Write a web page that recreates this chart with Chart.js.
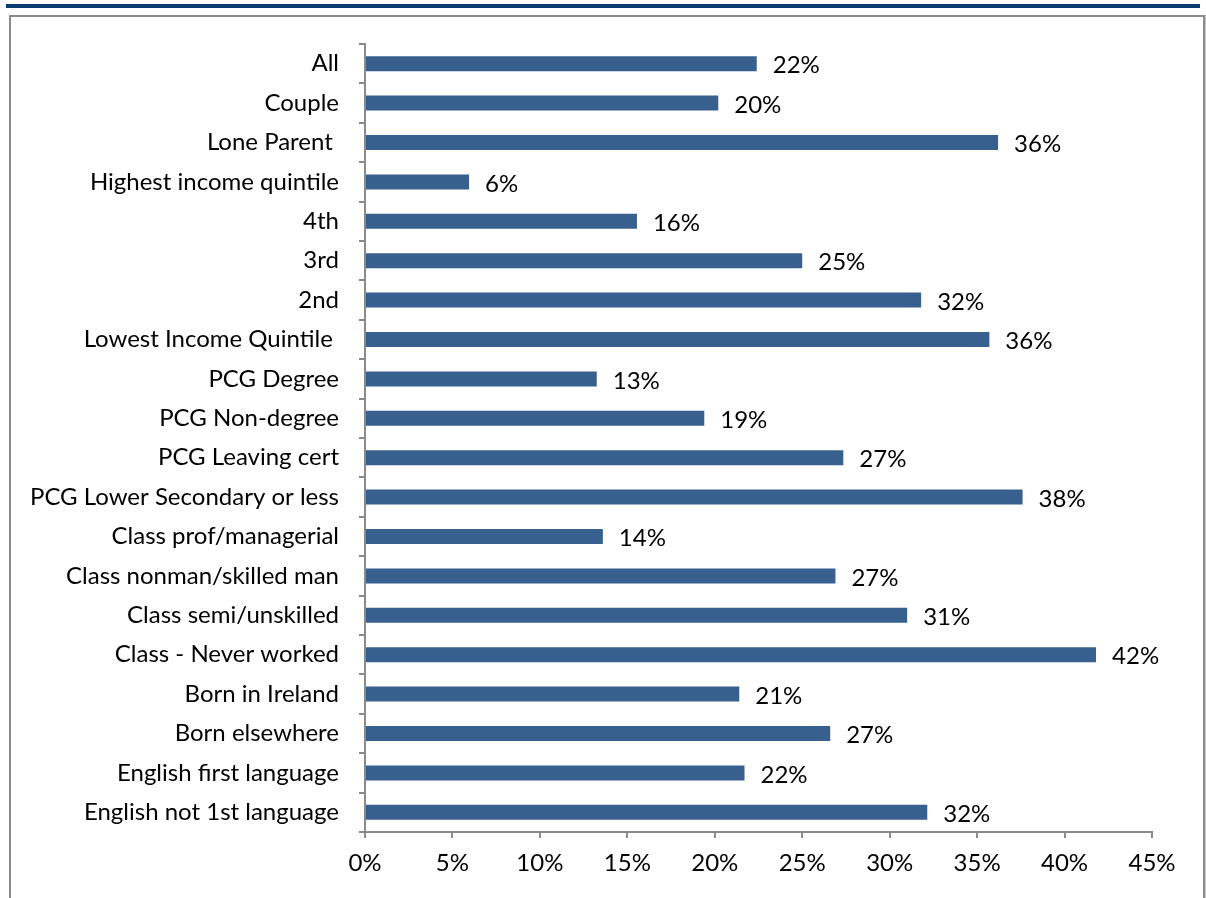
<!DOCTYPE html>
<html>
<head>
<meta charset="utf-8">
<script src="https://cdn.jsdelivr.net/npm/chart.js@4"></script>
<style>
  body { margin: 0; background: #fff; }
  .topline { position: absolute; left: 6px; top: 4px; width: 1194px; height: 4px; background: #0b3a6f; }
  .frame { position: absolute; left: 9px; top: 15px; width: 1192px; height: 900px;
           border: 2px solid #8a8a8a; border-bottom: none; box-shadow: 2px 0 0 #c8c8c8; }
  #wrap { position: absolute; left: 0; top: 0; }
</style>
</head>
<body>
<div class="topline"></div>
<div class="frame"></div>
<div id="wrap"><canvas id="barChart" width="1206" height="898"></canvas></div>
<script>
const categories = [
  "All", "Couple", "Lone Parent ", "Highest income quintile", "4th", "3rd", "2nd",
  "Lowest Income Quintile ", "PCG Degree", "PCG Non-degree", "PCG Leaving cert",
  "PCG Lower Secondary or less", "Class prof/managerial", "Class nonman/skilled man",
  "Class semi/unskilled", "Class - Never worked", "Born in Ireland", "Born elsewhere",
  "English first language", "English not 1st language"
];
const percentages = [
  22.4, 20.2, 36.2, 5.95, 15.55, 25.0, 31.8,
  35.7, 13.25, 19.4, 27.35,
  37.6, 13.6, 26.9,
  31.0, 41.8, 21.4, 26.6,
  21.7, 32.15
];
const xTicks = [0, 5, 10, 15, 20, 25, 30, 35, 40, 45];

const FONT = "Lato, 'Open Sans', sans-serif";
const FONT_SIZE = 24;

// percentage label to the right of each bar
const valueLabels = {
  id: "valueLabels",
  afterDatasetsDraw(chart) {
    const ctx = chart.ctx;
    const meta = chart.getDatasetMeta(0);
    ctx.save();
    ctx.font = FONT_SIZE + "px " + FONT;
    ctx.fillStyle = "#000";
    ctx.textAlign = "left";
    ctx.textBaseline = "middle";
    meta.data.forEach((bar, i) => {
      ctx.fillText(Math.round(percentages[i]) + "%", bar.x + 16, bar.y + 2);
    });
    ctx.restore();
  }
};

new Chart(document.getElementById("barChart"), {
  type: "bar",
  data: {
    labels: categories,
    datasets: [{
      data: percentages,
      backgroundColor: "#37608f",
      barPercentage: 0.38,
      categoryPercentage: 1
    }]
  },
  options: {
    indexAxis: "y",
    responsive: false,
    animation: false,
    layout: { padding: { top: 44, right: 54, left: 0, bottom: 0 } },
    plugins: { legend: { display: false }, tooltip: { enabled: false } },
    scales: {
      x: {
        min: 0,
        max: 45,
        afterBuildTicks(scale) { scale.ticks = xTicks.map(v => ({ value: v })); },
        afterFit(scale) { scale.height = 66; },
        border: { color: "#8a8a8a", width: 2 },
        grid: { drawOnChartArea: false, tickLength: 6, color: "#8a8a8a", lineWidth: 2 },
        ticks: {
          color: "#000",
          padding: 11,
          font: { family: FONT, size: FONT_SIZE },
          callback: v => v + "%"
        }
      },
      y: {
        afterFit(scale) { scale.width = 365; },
        border: { color: "#8a8a8a", width: 2 },
        grid: { drawOnChartArea: false, offset: true, tickLength: 6, color: "#8a8a8a", lineWidth: 2 },
        ticks: {
          color: "#000",
          padding: 20,
          font: { family: FONT, size: FONT_SIZE },
          autoSkip: false
        }
      }
    }
  },
  plugins: [valueLabels]
});
</script>
</body>
</html>
